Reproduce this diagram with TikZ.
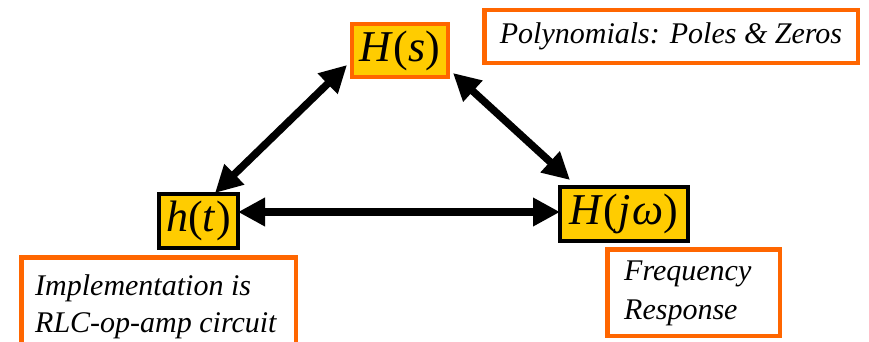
\documentclass[tikz,border=0pt]{standalone}
\usepackage{fontspec}
\newfontfamily\tnr{Liberation Serif}
\usetikzlibrary{arrows.meta,calc}

\definecolor{boxorange}{HTML}{FF6600}
\definecolor{boxyellow}{HTML}{FFCC00}

\tikzset{
  fnbox/.style={draw, line width=4pt, fill=boxyellow, inner sep=0pt,
                font=\tnr\fontsize{44}{50}\selectfont},
  fnorange/.style={fnbox, draw=boxorange},
  fnblack/.style={fnbox, draw=black},
  notebox/.style={draw=boxorange, line width=4.5pt, fill=white, inner sep=0pt,
                  font=\tnr\fontsize{30}{37}\selectfont\itshape},
  notetext/.style={inner sep=0pt, font=\tnr\fontsize{30}{37}\selectfont\itshape},
  biarrow/.style={line width=7.5pt,
    {Triangle[length=27pt,width=27pt]}-{Triangle[length=27pt,width=27pt]}}
}

\begin{document}
\begin{tikzpicture}[x=1pt,y=1pt]
  \useasboundingbox (0,0) rectangle (869,341);

  % transfer-function boxes
  \node[fnorange, minimum width=96pt, minimum height=53pt] (Hs) at (400,290.5)
       {\textit{H}(\textit{s})};
  \node[fnblack, minimum width=79pt, minimum height=54pt] (ht) at (198.5,120)
       {\textit{h}(\textit{t})};
  \node[fnblack, minimum width=128pt, minimum height=54pt] (Hjw) at (624,127)
       {\textit{H}(\textit{j\kern2pt ω})};

  % annotation boxes
  \node[notebox, minimum width=373.5pt, minimum height=52.5pt] (poly) at (671,304.5)
       {Polynomials: Poles \& Zeros};
  \node[notebox, minimum width=274.5pt, minimum height=120pt, anchor=north] (impl)
       at (158.5,86) {};
  \node[notetext, anchor=base west] (impl1) at (35,46) {Implementation is};
  \node[notetext, anchor=base west] (impl2) at (35,9) {RLC-op-amp circuit};
  \node[notebox, minimum width=172.5pt, minimum height=86.5pt] (freq) at (693.5,48.5) {};
  \node[notetext, anchor=base west] (freq1) at (624,61) {Frequency};
  \node[notetext, anchor=base west] (freq2) at (624,22) {Response};

  % two-way relations
  \draw[biarrow] ($(Hs.south west)+(-3,14)$) -- ($(ht.north)+(16.5,-1)$);
  \draw[biarrow] ($(Hs.south east)+(3,6)$) -- ($(Hjw.north west)+(12,5)$);
  \draw[biarrow] ($(ht.east)+(-2,9)$) -- ($(Hjw.west)+(2,2)$);
\end{tikzpicture}
\end{document}
